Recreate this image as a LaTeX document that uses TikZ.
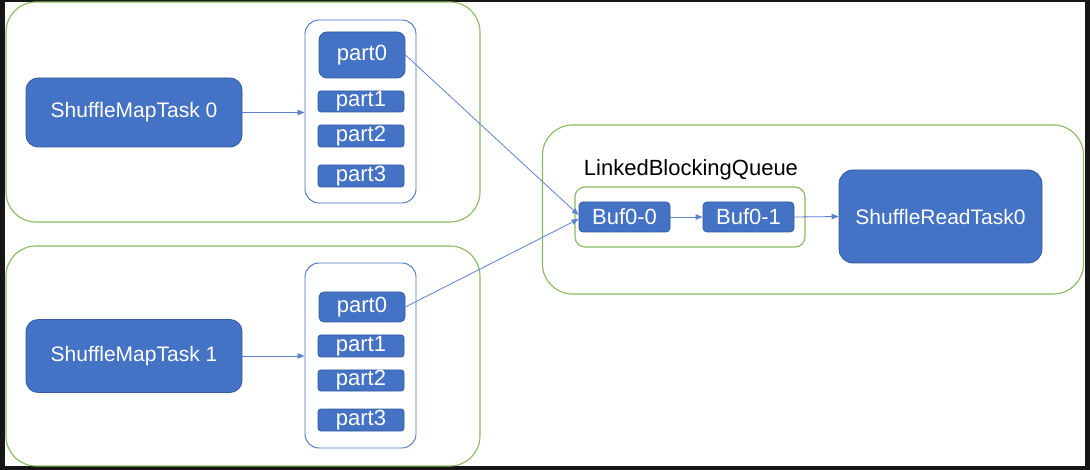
\documentclass[tikz,border=0pt]{standalone}
\usepackage{fontspec}
\setmainfont{Liberation Sans}
\usetikzlibrary{arrows.meta}
\definecolor{taskblue}{RGB}{68,114,196}
\definecolor{taskedge}{RGB}{52,90,160}
\definecolor{linkblue}{RGB}{95,130,205}
\definecolor{groupgreen}{RGB}{135,186,95}
\definecolor{frame}{RGB}{22,22,22}
\tikzset{
  blockbox/.style={draw=taskedge, line width=0.8pt, fill=taskblue, text=white,
    inner sep=0pt, font=\fontsize{21}{24}\selectfont},
  partbox/.style={blockbox, minimum width=86pt, rounded corners=3pt,
    font=\fontsize{22}{24}\selectfont},
  holder/.style={draw=taskblue, line width=0.9pt, rounded corners=14pt,
    minimum width=111pt, inner sep=0pt},
  group/.style={draw=groupgreen, line width=1.1pt, rounded corners=30pt, inner sep=0pt},
  link/.style={draw=linkblue, line width=0.8pt, -{Triangle[length=7pt,width=5.5pt]}},
}
\begin{document}
\begin{tikzpicture}[x=1pt,y=-1pt]
  % page with dark frame
  \fill[frame] (0,0) rectangle (1090,470);
  \fill[white] (5,2) rectangle (1085,466);
  \useasboundingbox (0,0) rectangle (1090,470);

  % outer groups
  \node[group, minimum width=474pt, minimum height=220pt] (g0) at (243,112) {};
  \node[group, minimum width=474pt, minimum height=220pt] (g1) at (243,356) {};
  \node[group, minimum width=541pt, minimum height=169pt] (g2) at (813,209.5) {};

  % map task 0 and its partitions
  \node[blockbox, rounded corners=12pt, minimum width=216pt, minimum height=69pt] (t0) at (134,112.5) {ShuffleMapTask 0};
  \node[holder, minimum height=183pt] (c0) at (360.5,111.5) {};
  \node[partbox, rounded corners=8pt, minimum height=46pt] (p00) at (362,55) {part0};
  \node[partbox, minimum height=21pt] (p01) at (361,101.5) {part1};
  \node[partbox, minimum height=22pt] (p02) at (361,136) {part2};
  \node[partbox, minimum height=22pt] (p03) at (361,176) {part3};

  % map task 1 and its partitions
  \node[blockbox, rounded corners=12pt, minimum width=216pt, minimum height=73pt] (t1) at (134,356) {ShuffleMapTask 1};
  \node[holder, minimum height=185pt] (c1) at (360.5,355.5) {};
  \node[partbox, rounded corners=5pt, minimum height=30pt] (p10) at (362,307) {part0};
  \node[partbox, minimum height=22pt] (p11) at (361,346) {part1};
  \node[partbox, minimum height=21pt] (p12) at (361,380.5) {part2};
  \node[partbox, minimum height=22pt] (p13) at (361,420) {part3};

  % reduce side
  \node[font=\fontsize{22}{24}\selectfont, inner sep=0pt] (qlabel) at (691,170) {LinkedBlockingQueue};
  \node[group, rounded corners=10pt, minimum width=230pt, minimum height=60pt] (q) at (690,217) {};
  \node[blockbox, rounded corners=4pt, minimum width=91pt, minimum height=30pt,
        font=\fontsize{22}{24}\selectfont] (b0) at (624.5,217) {Buf0-0};
  \node[blockbox, rounded corners=4pt, minimum width=91pt, minimum height=30pt,
        font=\fontsize{22}{24}\selectfont] (b1) at (748.5,217) {Buf0-1};
  \node[blockbox, rounded corners=14pt, minimum width=203pt, minimum height=93pt] (r0) at (940.5,216.5) {ShuffleReadTask0};

  % connectors
  \draw[link] (t0.east) -- (c0.west |- t0.east);
  \draw[link] (t1.east) -- (c1.west |- t1.east);
  \draw[link] (p00.east) -- ([yshift=2pt]b0.west);
  \draw[link] (p10.east) -- ([yshift=-2pt]b0.west);
  \draw[link] (b0.east) -- (b1.west);
  \draw[link] (b1.east) -- (r0.west);
\end{tikzpicture}
\end{document}
